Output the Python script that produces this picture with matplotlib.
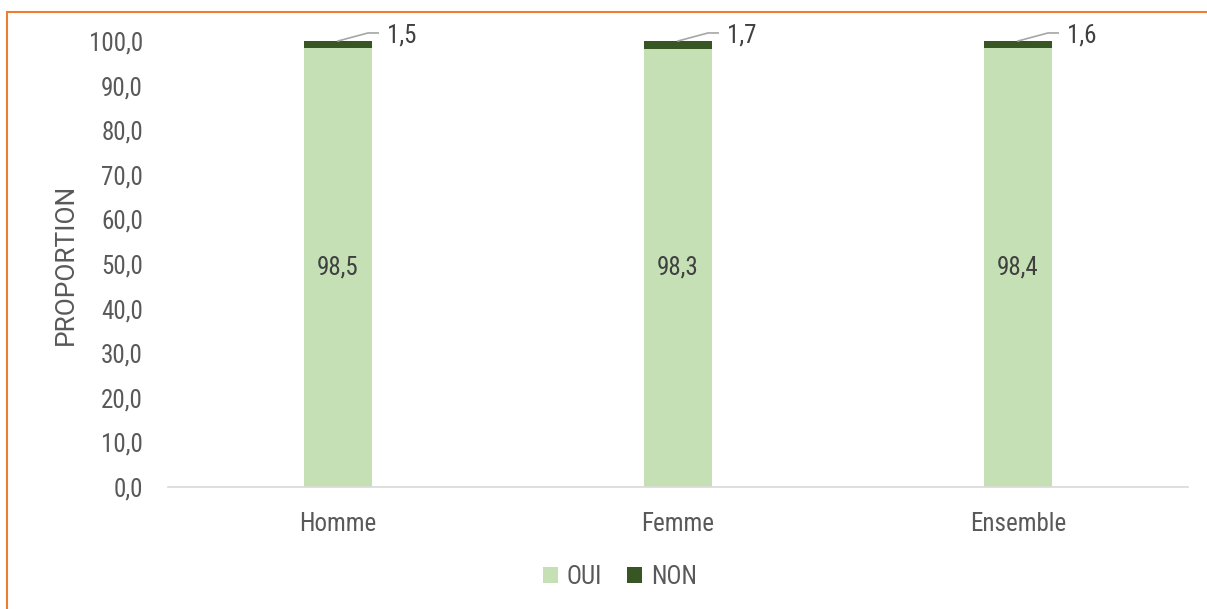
import matplotlib
matplotlib.use("Agg")
import matplotlib.pyplot as plt
from matplotlib.patches import Rectangle

categories = ["Homme", "Femme", "Ensemble"]
oui = [98.5, 98.3, 98.4]
non = [1.5, 1.7, 1.6]
series_names = ["OUI", "NON"]
yticks = [0, 10, 20, 30, 40, 50, 60, 70, 80, 90, 100]

plt.rcParams['font.family'] = ['Roboto Condensed', 'Roboto', 'DejaVu Sans']
grey = '#595959'
c_oui = '#C5E0B4'
c_non = '#375623'
FS = 18

fig = plt.figure(figsize=(12.07, 6.09), dpi=100)
ax = fig.add_axes([168/1207, 1-487/609, 1020/1207, 446/609])

x = list(range(len(categories)))
ax.bar(x, oui, width=0.2, color=c_oui, label=series_names[0])
ax.bar(x, non, width=0.2, bottom=oui, color=c_non, label=series_names[1])

ax.set_xlim(-0.5, len(categories) - 0.5)
ax.set_ylim(0, 100)
ax.set_yticks(yticks)
ax.set_yticklabels([f"{v:.1f}".replace('.', ',') for v in yticks], fontsize=FS, color=grey)
ax.set_xticks(x)
ax.set_xticklabels(categories, fontsize=FS, color=grey)
ax.tick_params(axis='both', length=0)
ax.tick_params(axis='y', pad=18)
ax.tick_params(axis='x', pad=18)
for s in ['top', 'right', 'left']:
    ax.spines[s].set_visible(False)
ax.spines['bottom'].set_color('#D9D9D9')
ax.spines['bottom'].set_linewidth(1.2)

ax.set_ylabel("PROPORTION", fontsize=19, color=grey, labelpad=8,
              family=['Roboto', 'DejaVu Sans'], fontweight='normal')

for i in x:
    ax.text(i, oui[i] / 2, f"{oui[i]:.1f}".replace('.', ','), ha='center', va='center',
            fontsize=FS, color='#404040')
    top = oui[i] + non[i]
    ax.plot([i, i + 0.088, i + 0.118], [top, top + 1.8, top + 1.8], color='#A6A6A6', lw=1.2,
            clip_on=False)
    ax.text(i + 0.143, top + 1.2, f"{non[i]:.1f}".replace('.', ','), ha='left', va='center',
            fontsize=FS, color='#404040')

leg = fig.legend(loc='center', bbox_to_anchor=(620/1207, 1-577/609), ncol=2, frameon=False,
                 fontsize=FS, handlelength=0.6, handleheight=0.6, handletextpad=0.35,
                 columnspacing=1.0)
for t in leg.get_texts():
    t.set_color(grey)

fig.patches.append(Rectangle((7/1207, -0.1), 1.2, 1 - 12/609 + 0.1, transform=fig.transFigure,
                             fill=False, edgecolor='#ED7D31', linewidth=1.5))

fig.savefig("out.png", dpi=100)
